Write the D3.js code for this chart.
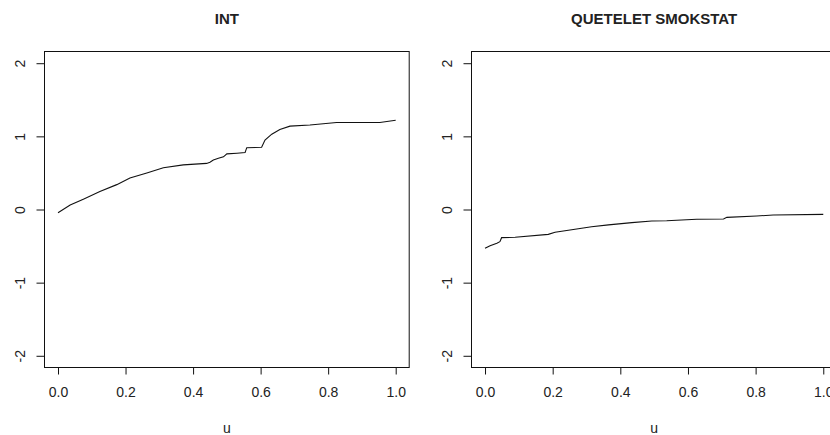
<!DOCTYPE html>
<html>
<head>
<meta charset="utf-8">
<script src="https://cdn.jsdelivr.net/npm/d3@7"></script>
<style>
  body { margin: 0; background: #fff; }
  text { font-family: "Liberation Sans", Arial, sans-serif; fill: #222; }
</style>
</head>
<body>
<svg id="chart" width="830" height="435"></svg>
<script>
// values
var titles = ["INT", "QUETELET SMOKSTAT"];
var xTicks = [0, 0.2, 0.4, 0.6, 0.8, 1.0];
var yTicks = [-2, -1, 0, 1, 2];

var intU = [0, 0.036, 0.075, 0.124, 0.174, 0.213, 0.263, 0.312, 0.371, 0.44, 0.45, 0.46, 0.475, 0.49, 0.50, 0.53, 0.554, 0.559, 0.603, 0.613, 0.633, 0.657, 0.687, 0.746, 0.825, 0.953, 1.0];
var intV = [-0.044, 0.06, 0.14, 0.245, 0.34, 0.43, 0.50, 0.57, 0.61, 0.63, 0.645, 0.676, 0.70, 0.72, 0.76, 0.77, 0.78, 0.845, 0.85, 0.95, 1.03, 1.095, 1.14, 1.155, 1.19, 1.19, 1.22];

var smkU = [0, 0.015, 0.035, 0.044, 0.049, 0.089, 0.187, 0.207, 0.266, 0.315, 0.365, 0.434, 0.493, 0.537, 0.626, 0.705, 0.715, 0.803, 0.852, 1.0];
var smkV = [-0.53, -0.495, -0.46, -0.44, -0.385, -0.38, -0.34, -0.31, -0.27, -0.235, -0.21, -0.18, -0.157, -0.153, -0.134, -0.13, -0.107, -0.089, -0.075, -0.066];

var panels = [
  { title: titles[0], u: intU, v: intV, left: 44.5, right: 409.2 },
  { title: titles[1], u: smkU, v: smkV, left: 471.5, right: 836.8 }
];

var svg = d3.select("#chart");
var plotTop = 51.5, plotBottom = 367.5;

panels.forEach(function(p) {
  // R style: axis range padded 4% each side
  var x = d3.scaleLinear().domain([-0.04, 1.04]).range([p.left, p.right]);
  var y = d3.scaleLinear().domain([-2.16, 2.16]).range([plotBottom, plotTop]);
  var g = svg.append("g");
  var cx = (p.left + p.right) / 2;

  var xAxis = g.append("g")
    .attr("transform", "translate(0," + plotBottom + ")")
    .call(d3.axisBottom(x).tickValues(xTicks).tickSize(7).tickPadding(13)
      .tickFormat(d3.format(".1f")));
  xAxis.select(".domain").remove();
  xAxis.selectAll("text").style("font-size", "14px").attr("fill", "#222");
  xAxis.selectAll("line").attr("stroke", "#111");

  var yAxis = g.append("g")
    .attr("transform", "translate(" + p.left + ",0)")
    .call(d3.axisLeft(y).tickValues(yTicks).tickSize(8)
      .tickFormat(function(d) { return String(d); }));
  yAxis.select(".domain").remove();
  yAxis.selectAll("line").attr("stroke", "#111");
  // rotated labels centred on each tick, like R's las=0
  yAxis.selectAll(".tick text")
    .style("font-size", "14px").attr("fill", "#222")
    .attr("x", null)
    .attr("text-anchor", "middle")
    .attr("dy", "0.35em")
    .attr("transform", "translate(-24,0) rotate(-90)");

  g.append("rect")
    .attr("x", p.left).attr("y", plotTop)
    .attr("width", p.right - p.left).attr("height", plotBottom - plotTop)
    .attr("fill", "none").attr("stroke", "#111").attr("stroke-width", 1);

  var line = d3.line()
    .x(function(d) { return x(d[0]); })
    .y(function(d) { return y(d[1]); });
  g.append("path")
    .datum(d3.zip(p.u, p.v))
    .attr("d", line)
    .attr("fill", "none").attr("stroke", "#111").attr("stroke-width", 1.1);

  g.append("text")
    .attr("x", cx).attr("y", 24)
    .attr("text-anchor", "middle")
    .style("font-size", "15px").style("font-weight", "bold")
    .attr("fill", "#111")
    .text(p.title);

  g.append("text")
    .attr("x", x(0.5)).attr("y", 433)
    .attr("text-anchor", "middle")
    .style("font-size", "14px")
    .text("u");
});
</script>
</body>
</html>
